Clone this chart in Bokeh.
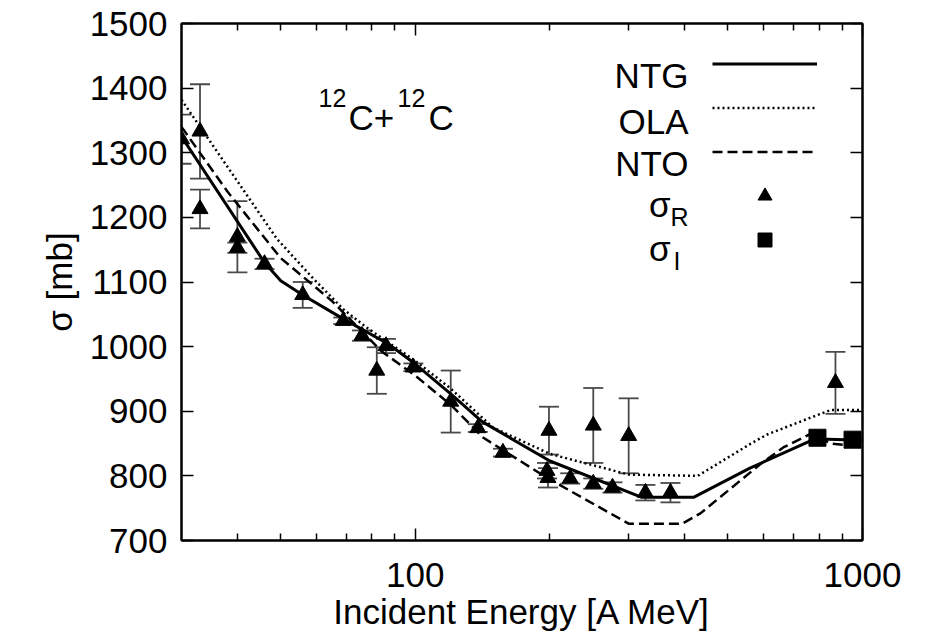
import math
from bokeh.plotting import figure
from bokeh.models import (ColumnDataSource, Whisker, TeeHead, LogAxis, LinearAxis, FixedTicker,
                          Legend, LegendItem, Label, Range1d, NumeralTickFormatter,
                          CustomJSTickFormatter)
from bokeh.embed import file_html
from bokeh.resources import INLINE

FONT = "Liberation Sans"

# ---------------- data ----------------
ntg_energy = [30, 46, 50, 56, 69, 87, 100, 120, 141, 200, 320, 420, 560, 765, 800, 1000]
ntg_sigma = [1325, 1130, 1102, 1080, 1043, 1004, 973, 927, 884, 823, 767, 767, 812, 854, 857, 855]

ola_energy = [30, 49, 59, 69, 78, 100, 120, 149, 200, 300, 428, 563, 612, 765, 850, 1000]
ola_sigma = [1382, 1167, 1106, 1058, 1029, 978, 935, 875, 834, 802, 800, 850, 864, 890, 902, 902]

nto_energy = [30, 38, 50, 65, 84, 100, 120, 142, 197, 300, 395, 434, 593, 665, 765, 850, 1000]
nto_sigma = [1340, 1240, 1137, 1071, 993, 955, 910, 859, 797, 726, 726, 742, 819, 844, 865, 850, 845]

sigR_energy = [30, 33, 33, 40, 40, 46, 56, 69, 76, 82, 86, 99, 120, 138, 157,
               197, 198, 199, 222, 250, 250, 276, 300, 327, 372, 870]
sigR_value = [1321, 1333, 1213, 1170, 1153, 1128, 1080, 1040, 1017, 963, 1001, 968, 915, 874, 836,
              808, 797, 870, 796, 878, 788, 782, 862, 774, 774, 944]
sigR_error = [38, 73, 30, 55, 8, 8, 20, 5, 8, 36, 11, 6, 48, 6, 6,
              12, 15, 37, 8, 58, 8, 8, 58, 12, 15, 48]

sigI_energy = [793, 950]
sigI_value = [859, 856]

x_major = [100, 1000]
x_minor = [40, 50, 60, 70, 80, 90, 200, 300, 400, 500, 600, 700, 800, 900]
y_ticks = [700, 800, 900, 1000, 1100, 1200, 1300, 1400, 1500]

# ---------------- figure ----------------
X0, X1, Y0, Y1 = 30, 1000, 700, 1500
FL, FR, FT, FB = 181, 862, 23, 540


def dx(px):
    return X0 * 10 ** ((px - FL) / (FR - FL) * math.log10(X1 / X0))


def dy(py):
    return Y0 + (FB - py) * (Y1 - Y0) / (FB - FT)


p = figure(width=930, height=643, x_axis_type="log",
           x_range=Range1d(X0, X1), y_range=Range1d(Y0, Y1),
           output_backend="svg", toolbar_location=None,
           min_border_left=FL, min_border_right=930 - FR,
           min_border_top=FT, min_border_bottom=643 - FB)
p.grid.visible = False
p.outline_line_color = "black"
p.outline_line_width = 2
p.background_fill_color = "white"
p.border_fill_color = "white"

xticker = FixedTicker(ticks=x_major, minor_ticks=x_minor)
yticker = FixedTicker(ticks=y_ticks, minor_ticks=[])


def style(ax):
    ax.axis_line_width = 2
    ax.axis_line_color = "black"
    ax.major_tick_line_width = 1.5
    ax.minor_tick_line_width = 1.5
    ax.major_tick_line_color = "black"
    ax.minor_tick_line_color = "black"
    ax.major_tick_in = 12
    ax.major_tick_out = 0
    ax.minor_tick_in = 7
    ax.minor_tick_out = 0
    ax.major_label_text_font = FONT
    ax.major_label_text_font_size = "35px"
    ax.major_label_text_color = "black"
    ax.axis_label_text_font = FONT
    ax.axis_label_text_font_size = "35px"
    ax.axis_label_text_font_style = "normal"
    ax.axis_label_text_color = "black"


xa = p.xaxis[0]
xa.ticker = xticker
xa.formatter = NumeralTickFormatter(format="0")
style(xa)
xa.major_label_standoff = 22
xa.axis_label = "Incident Energy [A MeV]"
xa.axis_label_standoff = 2

ya = p.yaxis[0]
ya.ticker = yticker
style(ya)
ya.major_label_standoff = 14
ya.axis_label = "σ [mb]"
ya.axis_label_standoff = 8

blank = CustomJSTickFormatter(code="return ''")
top = LogAxis(ticker=xticker, formatter=blank)
style(top)
p.add_layout(top, "above")
right = LinearAxis(ticker=yticker, formatter=blank)
style(right)
p.add_layout(right, "right")

# ---------------- curves ----------------
r_ntg = p.line(ntg_energy, ntg_sigma, line_color="black", line_width=3)
r_ola = p.line(ola_energy, ola_sigma, line_color="black", line_width=2.5, line_dash="2 3")
r_nto = p.line(nto_energy, nto_sigma, line_color="black", line_width=2.5, line_dash="10 5")

# ---------------- data points ----------------
srcR = ColumnDataSource(dict(
    x=sigR_energy, y=sigR_value,
    lo=[v - e for v, e in zip(sigR_value, sigR_error)],
    hi=[v + e for v, e in zip(sigR_value, sigR_error)],
))
wh = Whisker(source=srcR, base="x", upper="hi", lower="lo", dimension="height",
             line_color="#4a4a4a", line_width=1.8,
             upper_head=TeeHead(size=20, line_color="#4a4a4a", line_width=1.8),
             lower_head=TeeHead(size=20, line_color="#4a4a4a", line_width=1.8))
p.add_layout(wh)
r_R = p.scatter("x", "y", source=srcR, marker="triangle", size=16,
                fill_color="black", line_color="black")
r_I = p.scatter(sigI_energy, sigI_value, marker="square", size=17,
                fill_color="black", line_color="black")

# ---------------- legend (samples on the right of the texts) ----------------
legend = Legend(items=[LegendItem(label=" ", renderers=[r]) for r in (r_ntg, r_ola, r_nto, r_R, r_I)],
                location=(712 - FL, FB - 256.5), glyph_width=105, glyph_height=35,
                label_width=0, label_height=35, label_standoff=0, label_text_font_size="1px",
                spacing=9, padding=0, margin=0, border_line_color=None,
                background_fill_alpha=0)
p.add_layout(legend)


def lab(text, px, py, size, align="left"):
    p.add_layout(Label(x=dx(px), y=dy(py), text=text, text_font=FONT,
                       text_font_size=size, text_align=align,
                       text_baseline="alphabetic", text_color="black"))


lab("NTG", 688, 75, "35px", "right")
lab("OLA", 688, 121, "35px", "right")
lab("NTO", 688, 163, "35px", "right")
lab("σ", 670, 204, "35px", "right")
lab("R", 670, 216, "25px")
lab("σ", 670, 248, "35px", "right")
lab("I", 673, 260, "25px")

lab("12", 318, 97, "25px")
lab("C+", 348, 117, "35px")
lab("12", 397, 97, "25px")
lab("C", 428, 117, "35px")

open("out.html", "w").write(file_html(p, INLINE))
